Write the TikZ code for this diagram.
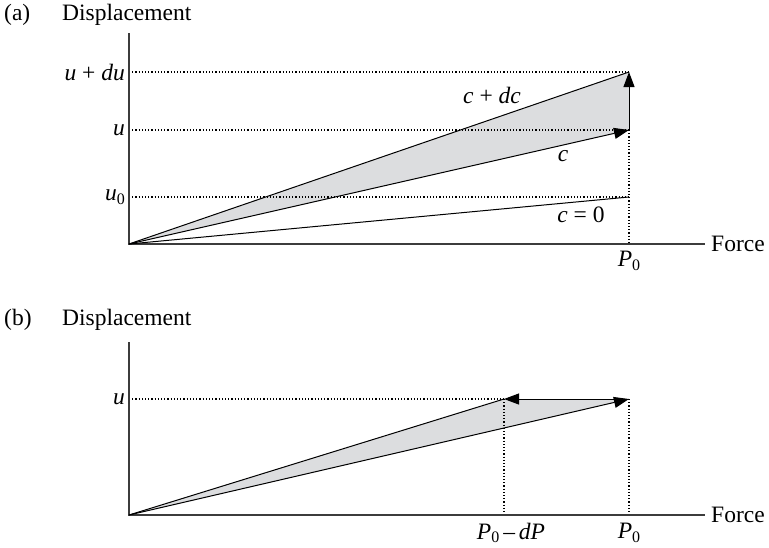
\documentclass[tikz,border=0pt]{standalone}
\usepackage{fontspec}
\setmainfont{Liberation Serif}
\usetikzlibrary{arrows.meta}
\definecolor{fillgray}{RGB}{220,221,223}
\definecolor{axisgray}{RGB}{60,60,60}
\newcommand{\subz}{\raisebox{-0.35ex}{\fontsize{16}{16}\selectfont 0}}
\begin{document}
\begin{tikzpicture}[x=1pt,y=-1pt,
  lbl/.style={inner sep=0pt,font=\fontsize{23.5}{27}\selectfont},
  axis/.style={draw=axisgray,line width=1.3pt},
  curve/.style={draw=black,line width=1pt},
  guide/.style={draw=black,line width=1.3pt,dash pattern=on 1.2pt off 2pt},
  tip/.style={-{Triangle[length=15pt,width=11pt]}}]
\useasboundingbox (0,0) rectangle (769,547);
% ---------- panel (a) ----------
\coordinate (Oa) at (129,244);
\coordinate (Ta) at (129,33);
\coordinate (Ea) at (705,244);
\coordinate (Pdu) at (629,72);
\coordinate (Pu) at (629,130);
\coordinate (Pu0) at (629,197);
\coordinate (Pa) at (629,244);
\coordinate (Yu) at (129,130);
\coordinate (Ydu) at (129,72);
\coordinate (Yu0) at (129,197);
\fill[fillgray] (Oa) -- (Pdu) -- (Pu) -- cycle;
\draw[guide] (Ydu) -- (Pdu);
\draw[guide] (Yu) -- (Pu);
\draw[guide] (Yu0) -- (Pu0);
\draw[guide] (Pu) -- (Pa);
\draw[axis] (Ta) -- (Oa) -- (Ea);
\draw[curve] (Oa) -- (Pdu);
\draw[curve,tip] (Oa) -- (Pu);
\draw[curve] (Oa) -- (Pu0);
\draw[curve,tip] (Pu) -- (Pdu);
\node[lbl,anchor=west] (la) at (4,15) {(a)};
\node[lbl,anchor=west] (da) at (62,15) {Displacement};
\node[lbl,anchor=west] (fa) at (711,244) {Force};
\node[lbl,anchor=east] (ldu) at (125,72) {\textit{u} + \textit{du}};
\node[lbl,anchor=east] (lu) at (125,130) {\textit{u}};
\node[lbl,anchor=east] (lu0) at (125,197) {\textit{u}\subz};
\node[lbl] (lcdc) at (492,95) {\textit{c} + \textit{dc}};
\node[lbl] (lc) at (563,156) {\textit{c}};
\node[lbl] (lc0) at (581,215) {\textit{c} = 0};
\node[lbl] (lp0a) at (629,261) {\textit{P}\subz};
% ---------- panel (b) ----------
\coordinate (Ob) at (129,515);
\coordinate (Tb) at (129,342);
\coordinate (Eb) at (705,515);
\coordinate (Qa) at (629,399);
\coordinate (Qb) at (504,399);
\coordinate (Yb) at (129,399);
\coordinate (Xa) at (629,515);
\coordinate (Xb) at (504,515);
\fill[fillgray] (Ob) -- (Qb) -- (Qa) -- cycle;
\draw[guide] (Yb) -- (Qb);
\draw[guide] (Qb) -- (Xb);
\draw[guide] (Qa) -- (Xa);
\draw[axis] (Tb) -- (Ob) -- (Eb);
\draw[curve] (Ob) -- (Qb);
\draw[curve,tip] (Ob) -- (Qa);
\draw[curve,tip] (Qa) -- (Qb);
\node[lbl,anchor=west] (lb) at (4,320) {(b)};
\node[lbl,anchor=west] (db) at (62,320) {Displacement};
\node[lbl,anchor=west] (fb) at (711,515) {Force};
\node[lbl,anchor=east] (lub) at (125,399) {\textit{u}};
\node[lbl] (lpd) at (511,533) {\textit{P}\subz\,\textendash\,\textit{dP}};
\node[lbl] (lp0b) at (629,533) {\textit{P}\subz};
\end{tikzpicture}
\end{document}
